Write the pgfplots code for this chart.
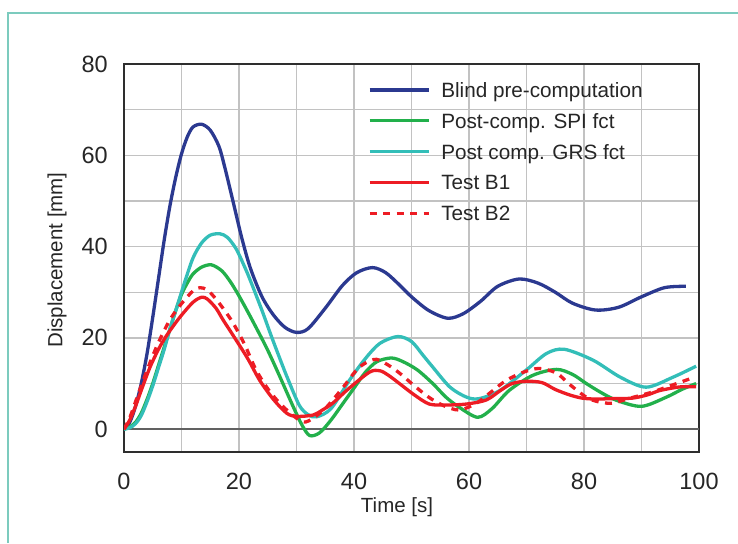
\documentclass[border=0pt]{standalone}
\usepackage{fontspec}
\setmainfont{Liberation Sans}
\usepackage{pgfplots}
\pgfplotsset{compat=1.18}
\definecolor{cblue}{HTML}{2B3990}
\definecolor{cgreen}{HTML}{22B04B}
\definecolor{ccyan}{HTML}{33BEB8}
\definecolor{cred}{HTML}{ED1C24}
\definecolor{cframe}{HTML}{7CCBBE}
\definecolor{cgrid}{HTML}{C2C2C2}
\begin{document}
\begin{tikzpicture}
\path[use as bounding box] (0pt,0pt) rectangle (738pt,543pt);
\draw[cframe, line width=1.5pt] (8pt,0pt) -- (8pt,530pt) -- (738pt,530pt);
\begin{axis}[
  at={(124pt,91pt)}, anchor=south west,
  scale only axis, width=575pt, height=388pt,
  xmin=0, xmax=100, ymin=-5, ymax=80,
  xtick={0,20,...,100}, minor xtick={10,30,...,90},
  ytick={0,20,...,80}, minor ytick={10,30,50,70},
  grid=both,
  major grid style={draw=cgrid, line width=1.3pt},
  minor grid style={draw=cgrid, line width=1.3pt},
  extra y ticks={0}, extra y tick labels={},
  extra y tick style={major grid style={draw=black!62, line width=1.6pt}},
  major tick length=0pt, minor tick length=0pt,
  axis line style={draw=black!82, line width=1.8pt},
  /pgf/number format/assume math mode=true,
  ticklabel style={font=\fontsize{23.5}{28}\selectfont, text=black!85},
  xticklabel style={anchor=north, inner sep=0pt, yshift=-21pt},
  yticklabel style={anchor=east, inner sep=0pt, xshift=-16pt},
  xlabel={Time [s]}, ylabel={Displacement [mm]},
  label style={font=\fontsize{20.5}{24}\selectfont, text=black!85},
  xlabel style={at={(axis description cs:0.4748,-0.1418)}, anchor=center, inner sep=0pt},
  ylabel style={at={(axis description cs:-0.1165,0.4948)}, anchor=center, rotate=0, inner sep=0pt},
  legend style={at={(axis description cs:0.4243,0.9523)}, anchor=north west,
    draw=none, fill=none, inner sep=0pt, outer sep=0pt, row sep=15.8pt,
    font=\fontsize{20.7}{24}\selectfont,
    nodes={inner sep=0pt, text height=15pt, text depth=0pt, text=black!85},
    /tikz/every odd column/.append style={column sep=11pt}},
  legend cell align=left,
  legend image code/.code={\draw[#1] (0pt,0pt) -- (59pt,0pt);},
  every axis plot/.append style={line width=3.3pt, smooth},
]
\addplot[cblue] coordinates {
(0,0) (1,1.5) (2,5) (3,10) (4,16.5) (5,24.5) (6,33) (7,41.5) (8,49) (9,55.2) (10,60.3) (11,64) (12,66.2) (13.5,66.8) (15,65.5) (16.5,62) (17.5,57.5) (19,49.7) (20.5,41.8) (22,35.2) (24,29) (26,25) (28,22.3) (30,21.2) (32,22) (35,26.5) (38,31.5) (40.5,34.3) (43.2,35.4) (45.5,34.3) (47.9,31.6) (50,29) (53,26) (56.3,24.3) (59,25.3) (62,28) (65,31.3) (68.7,32.9) (72,32) (75,30) (78,27.6) (82,26.1) (86,26.7) (90,29) (94,31) (97.7,31.3)
};
\addlegendentry{Blind pre-computation}
\addplot[cgreen] coordinates {
(0,0) (1,0.5) (2,1.5) (3,3.5) (4,6.5) (5,10) (6,14) (7,18) (8,22) (9,26) (10,29.5) (11,32) (12,34) (13.5,35.5) (15.2,36) (17,34.7) (18.5,32.3) (20,29.2) (22,24.6) (24.8,17.8) (27,11.8) (29.4,5) (31,0.8) (32.3,-1.4) (34,-0.8) (36,2) (38,5.5) (40,9) (42,12.5) (44,14.8) (46.5,15.6) (48.5,14.8) (51,13) (53.7,10) (56,7) (58.3,4.8) (61.5,2.6) (64,4.5) (67,8.5) (71.1,11.8) (75.2,13.1) (78,12) (80.4,10) (83,8) (85.7,6.3) (90,5) (94.3,7) (97,8.7) (99.5,10)
};
\addlegendentry{Post-comp. SPI fct}
\addplot[ccyan] coordinates {
(0,0) (1,0.3) (2,1.2) (3,3) (4,6) (5,9.5) (6,13.5) (7,17.5) (8,22) (9.2,26.8) (10.5,32) (12,37.5) (13.5,40.8) (15,42.5) (16.7,42.8) (18,42) (19.5,39.5) (21,35.5) (22,32.5) (24,26) (25.5,20.8) (27,15.8) (28.5,11) (30.5,5.2) (32,3.2) (33.5,2.7) (36,4.5) (39.2,10.7) (42,15.5) (44.5,18.8) (47.6,20.3) (50,19.2) (52,16.2) (53.7,13.6) (56.7,9.2) (59.6,7) (61.8,6.7) (65.4,8.5) (70,13) (73.5,16.6) (76.6,17.5) (81.6,15.1) (86.3,11.4) (90.8,9.2) (95.5,11.4) (99.5,13.8)
};
\addlegendentry{Post comp. GRS fct}
\addplot[cred] coordinates {
(0,0) (1,2) (2,5) (3,8.5) (4.5,13.5) (6,17.5) (7.4,20.5) (9.7,24.5) (12,27.8) (13.5,28.9) (14.5,28.5) (16,26.5) (17.2,24) (19,20.5) (21.5,15.5) (23.6,10.7) (26,6.5) (28.3,3.5) (30,2.8) (32.9,3.1) (34.5,4.2) (36.3,5.7) (39,8.8) (42.7,12.5) (44.5,12.8) (46,11.8) (47.9,10) (50.5,7.5) (53.1,5.5) (56,5.3) (59.5,5.5) (63,6.4) (65.5,8.5) (67.5,10) (70,10.5) (72.7,10.2) (75,8.7) (77.5,7.5) (79.7,6.8) (82,6.6) (85,6.7) (88.4,6.8) (91,7.5) (93,8.4) (95.3,9) (97,9.3) (99.5,9.3)
};
\addlegendentry{Test B1}
\addplot[cred, dash pattern=on 7pt off 6.5pt] coordinates {
(0,0) (1,2.5) (2,6) (3,9.5) (4.5,14.5) (6,19) (8,24) (10,27.5) (12,30.3) (13.2,31) (14.5,30.5) (16,28.5) (17.5,26) (19,23.2) (21,18.5) (23,12.9) (25.5,8) (28.3,4.2) (31.1,1.6) (33,2.5) (35.2,4.8) (38,9) (40.4,12.9) (42,14.5) (43.9,15.3) (46,14) (47.9,12.3) (50.5,9.5) (53,7) (55.5,5.2) (58.3,4.2) (61.3,5.7) (64,8.3) (66.5,10.7) (69.5,12.5) (72.2,13.3) (75.2,12.3) (77.5,9.8) (80.4,7) (82.5,6) (84.9,5.7) (88,6.8) (91.8,8.1) (95,9.5) (98.8,11.2)
};
\addlegendentry{Test B2}
\end{axis}
\end{tikzpicture}
\end{document}
